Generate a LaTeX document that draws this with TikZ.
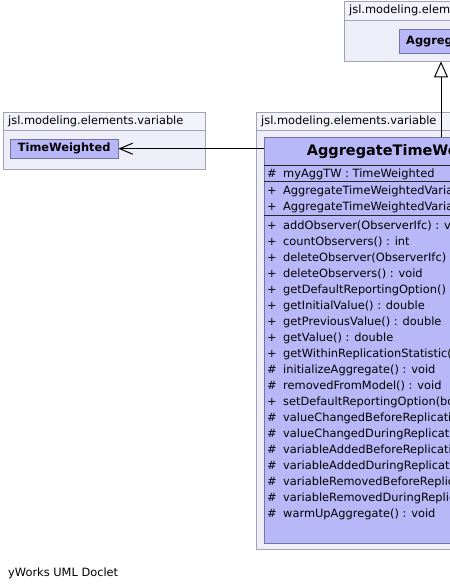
\documentclass[tikz,border=0pt]{standalone}
\usepackage{fontspec}
\setmainfont{DejaVu Sans}
\usepackage{tikz}
\usetikzlibrary{arrows.meta,positioning}
\definecolor{pkgbody}{HTML}{EEEEF9}
\definecolor{pkghead}{HTML}{F3F3FC}
\definecolor{pkgline}{HTML}{A2A2B2}
\definecolor{clsfill}{HTML}{B8B8F9}
\definecolor{clsline}{HTML}{7474A0}
\newcommand{\vis}[1]{\makebox[16pt][l]{#1}}
\begin{document}
\begin{tikzpicture}[x=1pt,y=-1pt,every node/.style={font=\fontsize{11.4}{16}\selectfont},pkg/.style={draw=pkgline,fill=pkgbody,anchor=north west,inner sep=0pt},pkgtab/.style={draw=pkgline,fill=pkghead,anchor=north west,minimum height=18pt,inner xsep=5pt,inner ysep=0pt,align=left},cls/.style={draw=clsline,fill=clsfill,anchor=north west,inner sep=0pt},clsname/.style={font=\fontsize{11.4}{16}\selectfont\bfseries},members/.style={anchor=base west,inner sep=0pt,align=left},sep/.style={draw=black!85,line width=0.9pt},assoc/.style={-{Straight Barb[length=13pt,width=11pt]},line width=1pt},gen/.style={-{Triangle[open,fill=white,length=16pt,width=14pt]},line width=1pt}]
\useasboundingbox (0,0) rectangle (450,587);
\clip (0,0) rectangle (450,587);
\fill[white] (0,0) rectangle (450,587);
% packages
\node[pkg,minimum width=202pt,minimum height=57pt] (twPkg) at (3,112) {};
\node[pkgtab,text width=192pt] (twPkgTab) at (3,112) {jsl.modeling.elements.variable};
\node[pkg,minimum width=200pt,minimum height=60pt] (aggPkg) at (344,1) {};
\node[pkgtab,text width=190pt,minimum height=19pt] (aggPkgTab) at (344,1) {jsl.modeling.elements};
\node[pkg,minimum width=300pt,minimum height=437pt] (aggTWPkg) at (256,112) {};
\node[pkgtab,text width=290pt] (aggTWPkgTab) at (256,112) {jsl.modeling.elements.variable};
% classes
\node[cls,minimum width=108pt,minimum height=19pt,clsname] (twClass) at (10,139) {TimeWeighted};
\node[cls,minimum height=24pt,inner xsep=7pt,clsname] (aggClass) at (399,29) {Aggregate};
\node[cls,minimum width=289pt,minimum height=406pt] (aggTW) at (264,137) {};
\node[anchor=north,minimum height=28pt,inner sep=0pt,font=\fontsize{14.5}{16}\selectfont\bfseries] (aggTWName) at (aggTW.north) {AggregateTimeWeighted};
\draw[sep] ([yshift=-28pt]aggTW.north west) -- ([yshift=-28pt]aggTW.north east);
\draw[sep] ([yshift=-44pt]aggTW.north west) -- ([yshift=-44pt]aggTW.north east);
\draw[sep] ([yshift=-78pt]aggTW.north west) -- ([yshift=-78pt]aggTW.north east);
% members (base = last line)
\node[members] (attrs) at (267,177) {\vis{\#}myAggTW : TimeWeighted};
\node[members] (ctors) at (267,210) {\vis{+}AggregateTimeWeightedVariable(ModelElement)\\\vis{+}AggregateTimeWeightedVariable(ModelElement, String)};
\node[members] (methods) at (267,517) {\vis{+}addObserver(ObserverIfc) : void\\
\vis{+}countObservers() : int\\
\vis{+}deleteObserver(ObserverIfc) : void\\
\vis{+}deleteObservers() : void\\
\vis{+}getDefaultReportingOption() : boolean\\
\vis{+}getInitialValue() : double\\
\vis{+}getPreviousValue() : double\\
\vis{+}getValue() : double\\
\vis{+}getWithinReplicationStatistic() : WeightedStatisticIfc\\
\vis{\#}initializeAggregate() : void\\
\vis{\#}removedFromModel() : void\\
\vis{+}setDefaultReportingOption(boolean) : void\\
\vis{\#}valueChangedBeforeReplication(AggregatableIfc) : void\\
\vis{\#}valueChangedDuringReplication(AggregatableIfc) : void\\
\vis{\#}variableAddedBeforeReplication(AggregatableIfc) : void\\
\vis{\#}variableAddedDuringReplication(AggregatableIfc) : void\\
\vis{\#}variableRemovedBeforeReplication(AggregatableIfc) : void\\
\vis{\#}variableRemovedDuringReplication(AggregatableIfc) : void\\
\vis{\#}warmUpAggregate() : void};
\node[anchor=base west,inner sep=0pt] (doclet) at (8,576) {yWorks UML Doclet};
% connectors
\coordinate (genFoot) at ([xshift=177pt]aggTW.north west);
\draw[assoc] (twClass.east -| aggTW.west) -- (twClass.east);
\draw[gen] (genFoot) -- (genFoot |- aggPkg.south);
\end{tikzpicture}
\end{document}
